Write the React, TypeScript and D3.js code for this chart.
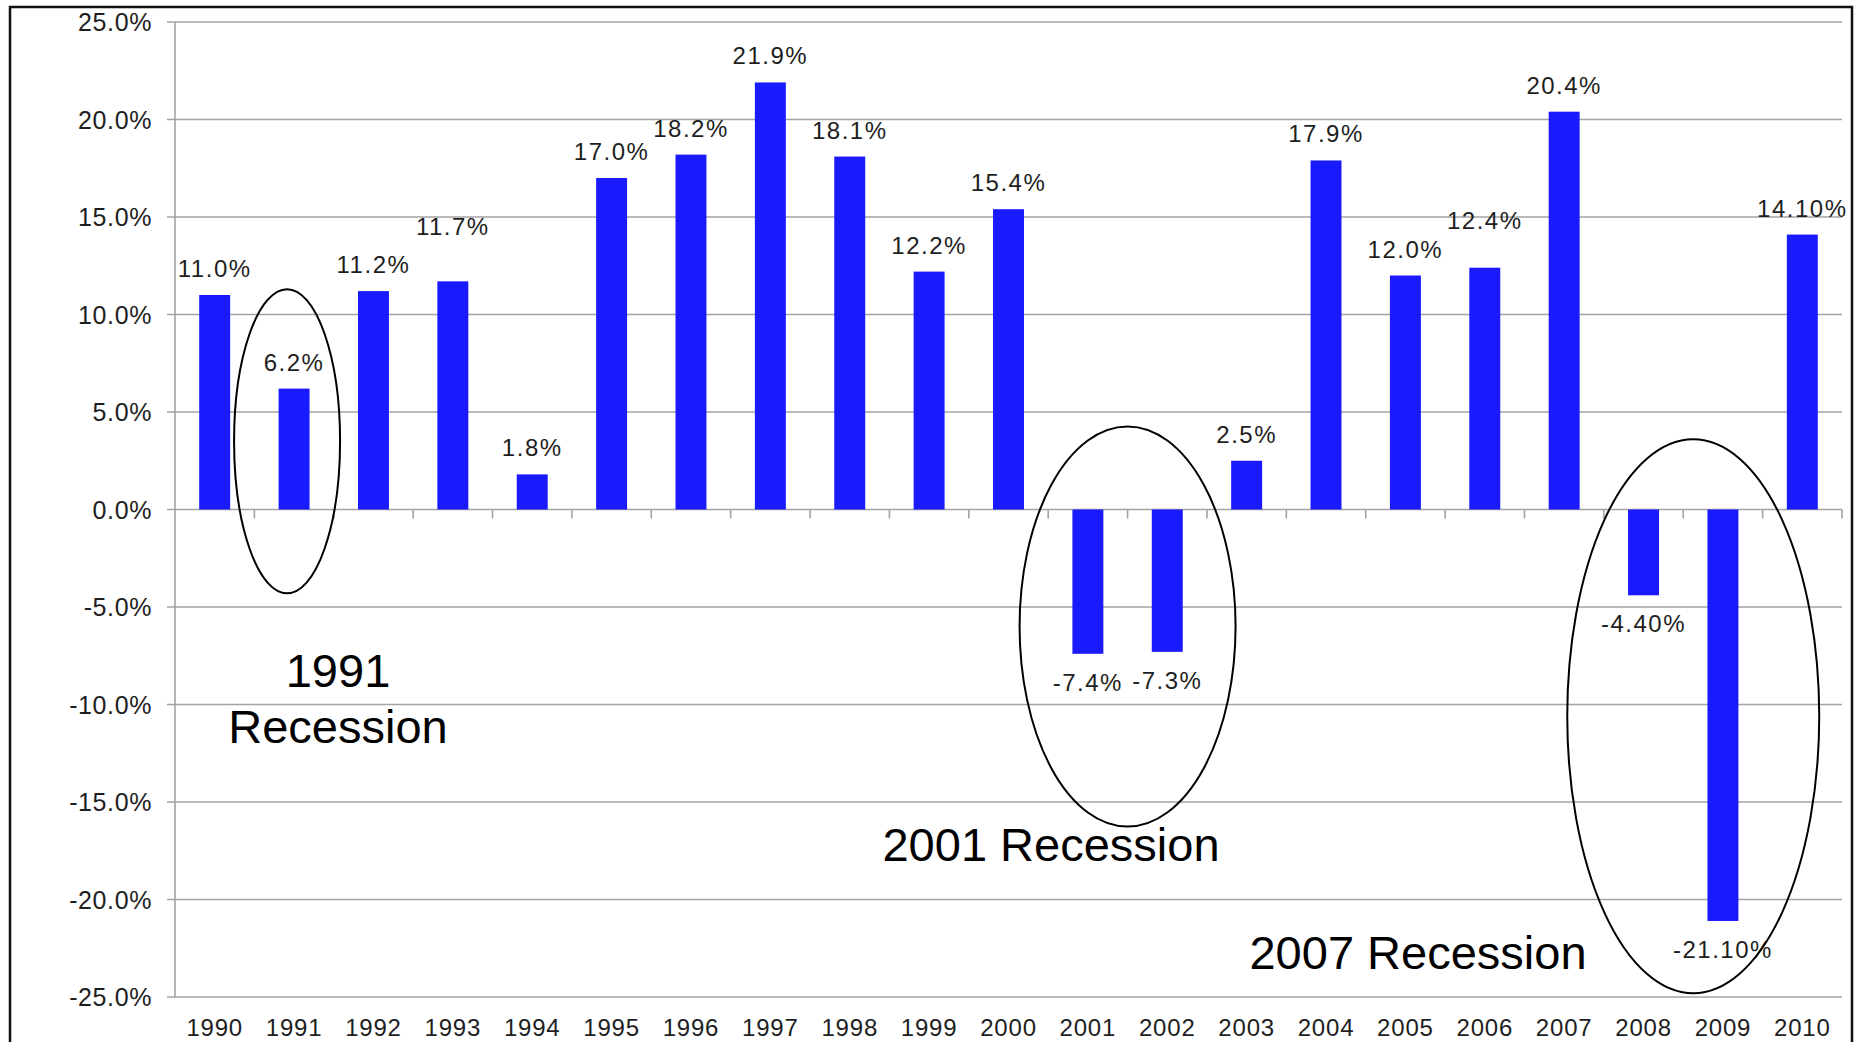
import React from "react";
import * as d3 from "d3";

// Annual returns by year, in percent
const years = [
  "1990", "1991", "1992", "1993", "1994", "1995", "1996", "1997", "1998", "1999", "2000",
  "2001", "2002", "2003", "2004", "2005", "2006", "2007", "2008", "2009", "2010",
];
const returns = [
  11.0, 6.2, 11.2, 11.7, 1.8, 17.0, 18.2, 21.9, 18.1, 12.2, 15.4,
  -7.4, -7.3, 2.5, 17.9, 12.0, 12.4, 20.4, -4.4, -21.1, 14.1,
];
const valueLabels = [
  "11.0%", "6.2%", "11.2%", "11.7%", "1.8%", "17.0%", "18.2%", "21.9%", "18.1%", "12.2%", "15.4%",
  "-7.4%", "-7.3%", "2.5%", "17.9%", "12.0%", "12.4%", "20.4%", "-4.40%", "-21.10%", "14.10%",
];
const yTicks = [25, 20, 15, 10, 5, 0, -5, -10, -15, -20, -25];

// Recession highlights: which years each ellipse wraps, and its caption
const recessionYears = [["1991"], ["2001", "2002"], ["2008", "2009"]];
const recessionCaptions = [["1991", "Recession"], ["2001 Recession"], ["2007 Recession"]];

// Extra lift for a few value labels that sit higher above their bars
const labelLift: Record<string, number> = { "1993": 28, "2006": 21 };

const W = 1862;
const H = 1042;
const FONT = "'Liberation Sans', Arial, Helvetica, sans-serif";
const GRID = "#a3a3a3";
const BAR = "#1a1aff";

export default function App() {
  const left = 175;
  const right = 1842;

  const x = d3
    .scaleBand<string>()
    .domain(years)
    .range([left, right])
    .paddingInner(0.61)
    .paddingOuter(0.305);

  const y = d3.scaleLinear().domain([-25, 25]).range([997, 22]);
  const fmt = (v: number) => `${v.toFixed(1)}%`;
  const step = x.step();
  const y0 = y(0);

  // Ellipse geometry around the wrapped years
  const ellipseSpec = [
    { cx: (x("1991") as number) + x.bandwidth() / 2 - 7, cy: y(3.5), rx: 53, ry: 152 },
    { cx: (x("2001") as number + (x("2002") as number) + x.bandwidth()) / 2, cy: y(-6), rx: 108, ry: 200 },
    { cx: (x("2008") as number + (x("2009") as number) + x.bandwidth()) / 2 + 10, cy: y(-10.6), rx: 126, ry: 277 },
  ];
  const captionPos = [
    { x: 338, y: [687, 743] },
    { x: 1051, y: [861] },
    { x: 1418, y: [969] },
  ];

  return (
    <>
      <style>{"body{margin:0;} svg{display:block;}"}</style>
      <svg width={W} height={H} viewBox={`0 0 ${W} ${H}`} style={{ background: "#fff" }}>
        {/* frame */}
        <rect x={10} y={7} width={1842} height={1060} fill="none" stroke="#111" strokeWidth={2.5} />

        {/* horizontal gridlines and y ticks */}
        {yTicks.map((t) => (
          <g key={t}>
            <line x1={left - 8} x2={right} y1={y(t)} y2={y(t)} stroke={GRID} strokeWidth={1.6} />
            <text
              x={152}
              y={y(t)}
              dy="0.36em"
              textAnchor="end"
              fontFamily={FONT}
              fontSize={25}
              letterSpacing={0.6}
              fill="#1e1e1e"
            >
              {fmt(t)}
            </text>
          </g>
        ))}

        {/* y axis line */}
        <line x1={left} x2={left} y1={y(25)} y2={y(-25)} stroke={GRID} strokeWidth={1.6} />

        {/* category boundary ticks on the zero line */}
        {years.map((yr, i) => (
          <line
            key={yr}
            x1={left + (i + 1) * step}
            x2={left + (i + 1) * step}
            y1={y0}
            y2={y0 + 9}
            stroke={GRID}
            strokeWidth={1.6}
          />
        ))}

        {/* bars */}
        {years.map((yr, i) => {
          const v = returns[i];
          const top = Math.min(y(v), y0);
          const h = Math.abs(y(v) - y0);
          return <rect key={yr} x={x(yr)} y={top} width={x.bandwidth()} height={h} fill={BAR} />;
        })}

        {/* value labels */}
        {years.map((yr, i) => {
          const v = returns[i];
          const cx = (x(yr) as number) + x.bandwidth() / 2;
          const ly = v >= 0 ? y(v) - 18 - (labelLift[yr] || 0) : y(v) + 37;
          return (
            <text
              key={yr}
              x={cx}
              y={ly}
              textAnchor="middle"
              fontFamily={FONT}
              fontSize={24}
              letterSpacing={1.5}
              fill="#1e1e1e"
            >
              {valueLabels[i]}
            </text>
          );
        })}

        {/* x axis labels */}
        {years.map((yr) => (
          <text
            key={yr}
            x={(x(yr) as number) + x.bandwidth() / 2}
            y={1036}
            textAnchor="middle"
            fontFamily={FONT}
            fontSize={24}
            letterSpacing={0.8}
            fill="#1e1e1e"
          >
            {yr}
          </text>
        ))}

        {/* recession ellipses */}
        {recessionYears.map((grp, i) => (
          <ellipse
            key={grp.join("-")}
            cx={ellipseSpec[i].cx}
            cy={ellipseSpec[i].cy}
            rx={ellipseSpec[i].rx}
            ry={ellipseSpec[i].ry}
            fill="none"
            stroke="#000"
            strokeWidth={2}
          />
        ))}

        {/* recession captions */}
        {recessionCaptions.map((lines, i) =>
          lines.map((ln, j) => (
            <text
              key={`${i}-${j}`}
              x={captionPos[i].x}
              y={captionPos[i].y[j]}
              textAnchor="middle"
              fontFamily={FONT}
              fontSize={47}
              fill="#000"
            >
              {ln}
            </text>
          ))
        )}
      </svg>
    </>
  );
}
